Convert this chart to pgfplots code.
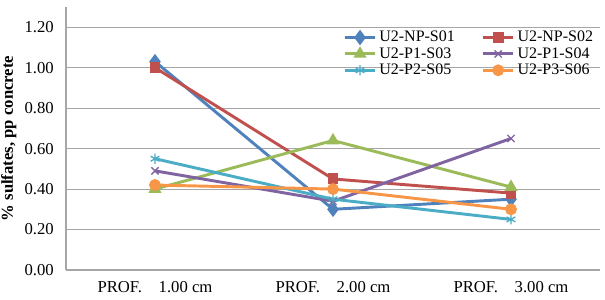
\documentclass[border=0pt]{standalone}
\usepackage{fontspec}
\setmainfont{Liberation Serif}
\usepackage{pgfplots}
\pgfplotsset{compat=1.18}
\definecolor{c1}{HTML}{4F81BD}
\definecolor{c2}{HTML}{C0504D}
\definecolor{c3}{HTML}{9BBB59}
\definecolor{c4}{HTML}{8064A2}
\definecolor{c5}{HTML}{4BACC6}
\definecolor{c6}{HTML}{F79646}
\begin{document}
\fontsize{12pt}{14pt}\selectfont
\begin{tikzpicture}
\begin{axis}[
  name=ax,
  scale only axis,
  width=400.5pt, height=197.25pt,
  xmin=-0.5, xmax=2.5, ymin=0, ymax=1.3,
  xtick={0,1,2},
  xticklabels={PROF.\quad 1.00 cm, PROF.\quad 2.00 cm, PROF.\quad 3.00 cm},
  ytick={0,0.2,0.4,0.6,0.8,1.0,1.2},
  /pgf/number format/fixed, /pgf/number format/fixed zerofill, /pgf/number format/precision=2, /pgf/number format/assume math mode=true,
  major tick length=0pt,
  axis x line*=bottom, axis y line*=left,
  axis line style={draw=gray!70, line width=0.8pt, -},
  ymajorgrids, grid style={draw=gray!70, line width=0.8pt},
  tick label style={font=\fontsize{12.5pt}{14pt}\selectfont},
  xticklabel style={yshift=-4pt},
  yticklabel style={xshift=-5pt},
  ylabel={\bfseries \% sulfates, pp concrete},
  ylabel style={font=\fontsize{12.5pt}{14pt}\selectfont, yshift=-2pt},
  legend columns=2,
  legend style={at={(rel axis cs:1.0,0.93)}, anchor=north east, draw=none, fill=none,
    font=\fontsize{12pt}{13pt}\selectfont, row sep=-1.5pt,
    /tikz/every even column/.append style={column sep=18pt}},
  legend cell align=left,
  legend image code/.code={\draw[mark repeat=2,mark phase=2] plot coordinates {(0cm,0cm) (0.4cm,0cm) (0.8cm,0cm)};},
  every axis plot/.append style={line width=2.2pt, mark size=3.2pt},
]
\addplot[color=c1, mark=diamond*, mark size=4pt] coordinates {(0,1.03) (1,0.30) (2,0.35)};
\addlegendentry{U2-NP-S01}
\addplot[color=c2, mark=square*, mark size=3pt] coordinates {(0,1.00) (1,0.45) (2,0.38)};
\addlegendentry{U2-NP-S02}
\addplot[color=c3, mark=triangle*, mark size=3.5pt] coordinates {(0,0.40) (1,0.64) (2,0.41)};
\addlegendentry{U2-P1-S03}
\addplot[color=c4, mark=x, mark size=3.8pt, mark options={line width=1pt}] coordinates {(0,0.49) (1,0.34) (2,0.65)};
\addlegendentry{U2-P1-S04}
\addplot[color=c5, mark=asterisk, mark size=3.8pt, mark options={line width=1pt}] coordinates {(0,0.55) (1,0.35) (2,0.25)};
\addlegendentry{U2-P2-S05}
\addplot[color=c6, mark=*, mark size=3.3pt] coordinates {(0,0.42) (1,0.40) (2,0.30)};
\addlegendentry{U2-P3-S06}
\end{axis}
\pgfresetboundingbox
\path[use as bounding box] ([shift={(-49.5pt,-21.75pt)}]ax.south west) rectangle ([shift={(3.75pt,5.25pt)}]ax.north east);
\end{tikzpicture}
\end{document}
